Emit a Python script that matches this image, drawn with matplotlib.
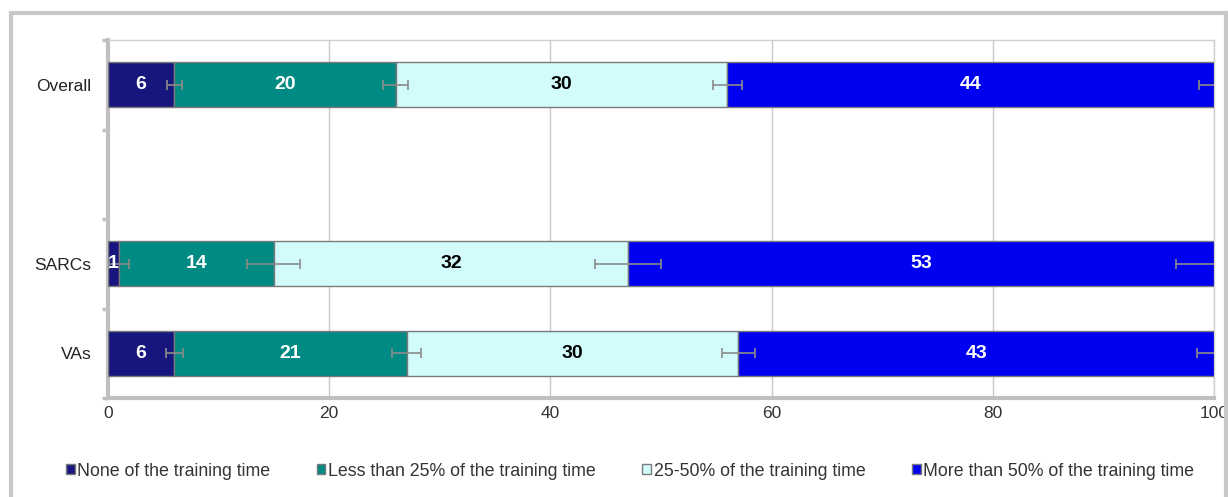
import matplotlib
matplotlib.use("Agg")
import matplotlib.pyplot as plt
import numpy as np
from matplotlib.patches import Rectangle

plt.rcParams['font.family'] = ['Liberation Sans', 'DejaVu Sans']

categories = ["Overall", "", "SARCs", "VAs"]
series_names = ["None of the training time", "Less than 25% of the training time",
                "25-50% of the training time", "More than 50% of the training time"]
none_vals = [6, 0, 1, 6]
lt25_vals = [20, 0, 14, 21]
mid_vals = [30, 0, 32, 30]
gt50_vals = [44, 0, 53, 43]
# error half-widths at the right end of each segment
none_err = [0.7, 0, 0.9, 0.8]
lt25_err = [1.1, 0, 2.4, 1.3]
mid_err = [1.3, 0, 3.0, 1.5]
gt50_err = [1.4, 0, 3.4, 1.5]
xticks = [0, 20, 40, 60, 80, 100]

colors = ["#16167e", "#008a84", "#d2fbfb", "#0000f0"]
label_colors = ["white", "white", "black", "white"]

fig = plt.figure(figsize=(12.28, 4.97), dpi=100)
ax = fig.add_axes([108/1228, 1-398/497, (1214-108)/1228, (398-40)/497])

y = np.arange(len(categories))
values = [none_vals, lt25_vals, mid_vals, gt50_vals]
errs = [none_err, lt25_err, mid_err, gt50_err]
left = np.zeros(len(categories))
for vals, err, col, lc, name in zip(values, errs, colors, label_colors, series_names):
    vals = np.array(vals, dtype=float)
    mask = vals > 0
    ax.barh(y[mask], vals[mask], left=left[mask], height=0.5, color=col,
            edgecolor="#7a7a7a", linewidth=1.0, label=name, zorder=3)
    ends = left + vals
    ax.errorbar(ends[mask], y[mask], xerr=np.array(err)[mask], fmt='none',
                ecolor="#8c8c8c", elinewidth=1.2, capsize=3.5, capthick=1.2, zorder=4)
    for yi, l, v, m in zip(y, left, vals, mask):
        if m:
            ax.text(l + v/2, yi, f"{int(v)}", ha='center', va='center', color=lc,
                    fontsize=14, fontweight='bold', zorder=5)
    left = ends

ax.set_xlim(0, 100)
ax.set_ylim(len(categories) - 0.5, -0.5)
ax.set_xticks(xticks)
ax.set_xticklabels([str(t) for t in xticks], fontsize=12.5, color="#333333")
ax.set_yticks(y)
ax.set_yticklabels(categories, fontsize=12.5, color="#222222")
ax.set_yticks(np.arange(-0.5, len(categories)), minor=True)
ax.tick_params(axis='y', which='major', length=0, pad=12)
ax.tick_params(axis='y', which='minor', length=4, width=2.5, color="#c0c0c0")
ax.tick_params(axis='x', length=0, pad=6)
ax.grid(axis='x', color="#c8c8c8", linewidth=1, zorder=0)
for s in ['top', 'right']:
    ax.spines[s].set_color("#d0d0d0")
    ax.spines[s].set_linewidth(1)
for s in ['left', 'bottom']:
    ax.spines[s].set_color("#c0c0c0")
    ax.spines[s].set_linewidth(3)

# outer frame
frame = Rectangle((11/1228, -0.05), (1226-11)/1228, 1.05 - 13/497,
                  transform=fig.transFigure, fill=False, edgecolor="#c8c8c8",
                  linewidth=3, clip_on=False)
fig.patches.append(frame)

leg = fig.legend(loc='center', bbox_to_anchor=(0.513, 1-471/497), ncol=4, frameon=False,
                 fontsize=12.8, handlelength=0.5, handleheight=0.5, handletextpad=0.15,
                 columnspacing=2.6)
for t in leg.get_texts():
    t.set_color("#333333")

fig.savefig("out.png", dpi=100)
